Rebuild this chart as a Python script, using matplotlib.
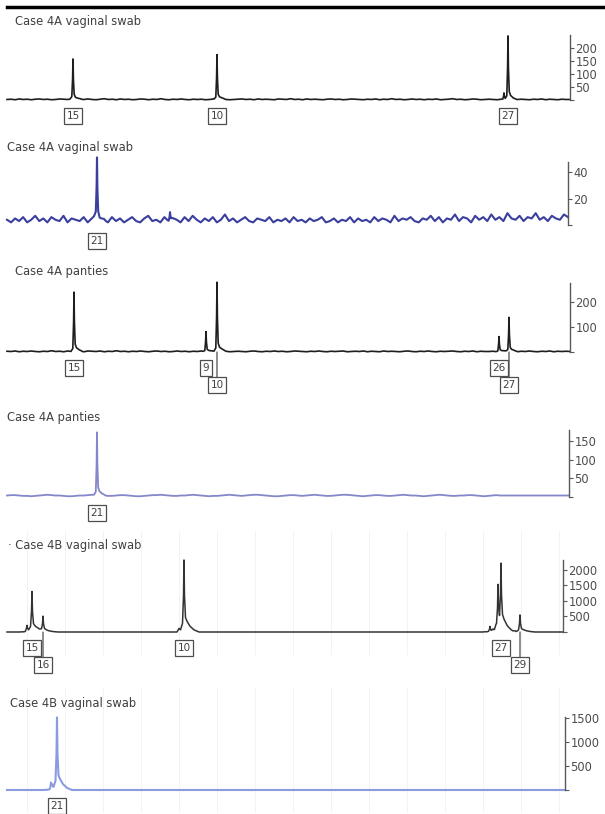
import matplotlib
matplotlib.use("Agg")
import matplotlib.pyplot as plt
from matplotlib.lines import Line2D
import numpy as np

W, H = 605, 814

# ---------------- data ----------------
titles = ["Case 4A vaginal swab", "Case 4A vaginal swab", "Case 4A panties",
          "Case 4A panties", "\u00b7 Case 4B vaginal swab", "Case 4B vaginal swab"]

y_ticks = [[50, 100, 150, 200], [20, 40], [100, 200], [50, 100, 150],
           [500, 1000, 1500, 2000], [500, 1000, 1500]]
y_max = [250, 48, 275, 180, 2320, 1520]

# peaks: scan position, height (RFU), allele label ('' = none), label row
p1_pos = [73, 217, 504, 508]
p1_hgt = [154, 173, 25, 242]
p1_lab = ["15", "10", "", "27"]
p1_row = [1, 1, 0, 1]

p2_pos = [97, 170]
p2_hgt = [45, 6]
p2_lab = ["21", ""]
p2_row = [1, 0]

p3_pos = [74, 206, 217, 499, 509]
p3_hgt = [236, 80, 276, 60, 136]
p3_lab = ["15", "9", "10", "26", "27"]
p3_row = [1, 1, 2, 1, 2]

p4_pos = [97]
p4_hgt = [168]
p4_lab = ["21"]
p4_row = [1]

p5_pos = [27, 32, 43, 184, 490, 498, 501, 520]
p5_hgt = [150, 1290, 480, 2320, 180, 1420, 2000, 550]
p5_lab = ["", "15", "16", "10", "", "", "27", "29"]
p5_row = [0, 1, 2, 1, 0, 0, 1, 2]

p6_pos = [51, 57]
p6_hgt = [120, 1500]
p6_lab = ["", "21"]
p6_row = [0, 1]

# baseline noise (RFU, evenly spaced samples)
n1 = [2, 3, 1, 4, 2, 3, 1, 3, 4, 2, 3, 1, 2, 4, 3, 2, 5, 1, 3, 2, 4, 2, 1, 3, 5, 2, 3, 1, 4, 2,
      3, 1, 2, 4, 3, 1, 3, 2, 5, 2, 1, 3, 2, 4, 2, 1, 3, 2, 3, 1, 2, 4, 1, 3, 2, 1, 2, 3, 4, 2,
      3, 1, 4, 2, 3, 2, 1, 4, 3, 2, 5, 2, 3, 1, 4, 2, 3, 2, 1, 3, 4, 2, 3, 1, 2, 4, 3, 2, 1, 3,
      2, 4, 1, 3, 2, 5, 2, 3, 1, 2, 4, 2, 3, 1, 3, 2, 4, 1, 2, 3, 5, 2, 3, 1, 2, 4, 3, 1, 2, 3,
      2, 1, 3, 2, 4, 1, 2, 3, 2, 1, 3, 2, 4, 1, 3, 2, 1, 3, 2, 2]
n2 = [4, 2, 5, 3, 6, 2, 4, 7, 3, 5, 2, 6, 4, 3, 7, 2, 5, 4, 3, 6, 2, 5, 8, 3, 4, 2, 6, 3, 5, 2,
      4, 6, 3, 2, 5, 7, 3, 4, 2, 6, 3, 5, 4, 2, 6, 3, 7, 4, 2, 5, 3, 6, 2, 4, 8, 3, 5, 2, 4, 6,
      3, 2, 5, 4, 3, 6, 2, 4, 3, 5, 2, 6, 3, 4, 2, 5, 3, 4, 6, 2, 3, 5, 2, 4, 3, 6, 2, 5, 3, 4,
      2, 6, 3, 5, 4, 2, 7, 3, 5, 4, 6, 3, 2, 5, 4, 7, 3, 6, 2, 5, 4, 8, 3, 6, 5, 2, 7, 4, 6, 3,
      8, 4, 6, 3, 9, 5, 4, 7, 3, 6, 5, 9, 4, 6, 3, 7, 5, 4, 8, 6]
n3 = [3, 2, 4, 1, 3, 2, 4, 2, 1, 3, 2, 5, 2, 3, 1, 4, 2, 3, 2, 1, 4, 3, 2, 4, 1, 3, 2, 5, 2, 3,
      1, 3, 2, 4, 2, 1, 3, 4, 2, 3, 1, 2, 4, 2, 3, 1, 3, 2, 4, 1, 2, 3, 2, 4, 3, 1, 2, 3, 2, 1,
      3, 4, 2, 1, 3, 2, 4, 2, 3, 1, 2, 4, 3, 2, 1, 3, 2, 4, 2, 1, 3, 2, 3, 4, 1, 2, 3, 2, 4, 1,
      3, 2, 1, 4, 2, 3, 2, 1, 3, 4, 2, 1, 3, 2, 4, 2, 1, 3, 2, 3, 4, 2, 1, 3, 2, 4, 1, 3, 2, 2,
      3, 1, 2, 4, 2, 3, 1, 3, 2, 4, 2, 1, 3, 2, 4, 1, 3, 2, 3, 2]
n4 = [4, 5, 5, 4, 3, 3, 2, 3, 4, 5, 6, 5, 4, 4, 3, 2, 2, 3, 4, 4, 5, 6, 6, 5, 4, 3, 3, 4, 5, 5,
      4, 3, 2, 2, 3, 4, 5, 5, 6, 5, 4, 3, 3, 4, 4, 5, 6, 5, 4, 3, 2, 3, 3, 4, 5, 6, 5, 4, 3, 4,
      5, 6, 6, 5, 4, 3, 2, 2, 3, 4, 5, 5, 4, 3, 4, 5, 6, 5, 4, 3, 3, 4, 5, 6, 6, 5, 4, 3, 2, 3,
      4, 5, 5, 4, 3, 3, 4, 5, 6, 5, 4, 4, 3, 2, 3, 4, 5, 6, 5, 4, 3, 3, 4, 4, 5, 5, 4, 3, 2, 3,
      4, 5, 4, 4, 4, 4, 4, 4, 4, 4, 4, 4, 4, 4, 4, 4, 4, 4, 4, 4]
n5 = [0, 0]
n6 = [0, 0]

peaks = [(p1_pos, p1_hgt, p1_lab, p1_row), (p2_pos, p2_hgt, p2_lab, p2_row),
         (p3_pos, p3_hgt, p3_lab, p3_row), (p4_pos, p4_hgt, p4_lab, p4_row),
         (p5_pos, p5_hgt, p5_lab, p5_row), (p6_pos, p6_hgt, p6_lab, p6_row)]
noise = [n1, n2, n3, n4, n5, n6]

# ---------------- layout / style ----------------
# (baseline px, axis top px, axis right px, title x px, title y px)
layout = [(100, 35, 570, 15, 22), (225, 162, 568, 7, 148), (352, 283, 570, 15, 272),
          (497, 430, 569, 7, 417), (632, 560, 563, 8, 545), (790, 717, 565, 10, 703)]
colors = ["#1e1e1e", "#3a3f9e", "#1e1e1e", "#8487c9", "#333333", "#8c9be0"]
lws = [1.2, 1.5, 1.2, 1.3, 1.1, 1.5]

tmpl_narrow = ([-3, -1.2, -0.4, 0, 0.4, 1.2, 2.5, 5, 9],
               [0, 0.05, 0.5, 1, 0.5, 0.12, 0.06, 0.03, 0])
tmpl_broad = ([-7, -5, -3.5, -1.5, -0.5, 0, 0.5, 1.5, 3, 6, 10, 15],
              [0, 0.05, 0.03, 0.12, 0.5, 1, 0.5, 0.2, 0.15, 0.08, 0.03, 0])
templates = [tmpl_narrow, tmpl_narrow, tmpl_narrow, tmpl_narrow, tmpl_broad, tmpl_broad]

LEFT = 7

fig = plt.figure(figsize=(W / 100, H / 100), dpi=100)
fig.patch.set_facecolor("white")

# top rule
fig.add_artist(Line2D([7 / W, 1.0], [1 - 7 / H, 1 - 7 / H], color="black", lw=2.5))

for i in range(6):
    B, T, R, tx, ty = layout[i]
    ax = fig.add_axes([LEFT / W, 1 - B / H, (R - LEFT) / W, (B - T) / H])
    ax.set_xlim(LEFT, R)
    ax.set_ylim(0, y_max[i])
    ax.patch.set_alpha(0)
    for s in ["top", "left", "bottom"]:
        ax.spines[s].set_visible(False)
    ax.spines["right"].set_color("0.35")
    ax.spines["right"].set_linewidth(1.0)
    ax.spines["right"].set_bounds(0, y_max[i])
    ax.yaxis.tick_right()
    ax.set_yticks([0] + y_ticks[i])
    ax.set_yticklabels([""] + [str(v) for v in y_ticks[i]])
    ax.tick_params(axis="y", direction="out", length=3, width=0.8, color="0.35",
                   labelsize=8.3, labelcolor="0.3", pad=1)
    ax.set_xticks([])

    if i >= 4:
        for gx in np.arange(27, R, 38):
            ax.axvline(gx, color="#f3f3f3", lw=0.7, zorder=0, ymin=-0.3, ymax=1.4,
                       clip_on=False)

    pos, hgt, lab, row = peaks[i]
    nz = noise[i]
    xg = np.linspace(LEFT, R, len(nz))
    offs, fr = templates[i]
    xs = set(xg.tolist())
    for p in pos:
        for o in offs:
            xs.add(p + o)
    xs = np.array(sorted(x for x in xs if LEFT <= x <= R))
    ys = np.interp(xs, xg, nz)
    for p, h in zip(pos, hgt):
        ys = ys + h * np.interp(xs - p, offs, fr, left=0, right=0)
    ax.plot(xs, ys, color=colors[i], lw=lws[i], clip_on=False, solid_joinstyle="round")

    for p, l, r in zip(pos, lab, row):
        if not l:
            continue
        dy = -16 if r == 1 else -33
        ax.annotate(l, xy=(p, 0), xytext=(0, dy), textcoords="offset pixels",
                    ha="center", va="center", fontsize=7.5, color="0.25",
                    bbox=dict(boxstyle="square,pad=0.25", fc="white", ec="0.3", lw=0.9),
                    arrowprops=(dict(arrowstyle="-", color="0.3", lw=0.9,
                                     shrinkA=0, shrinkB=0) if r == 2 else None),
                    annotation_clip=False)

    fig.text(tx / W, 1 - ty / H, titles[i], fontsize=8.3, color="0.25",
             ha="left", va="center")

fig.savefig("out.png", dpi=100, facecolor="white")
